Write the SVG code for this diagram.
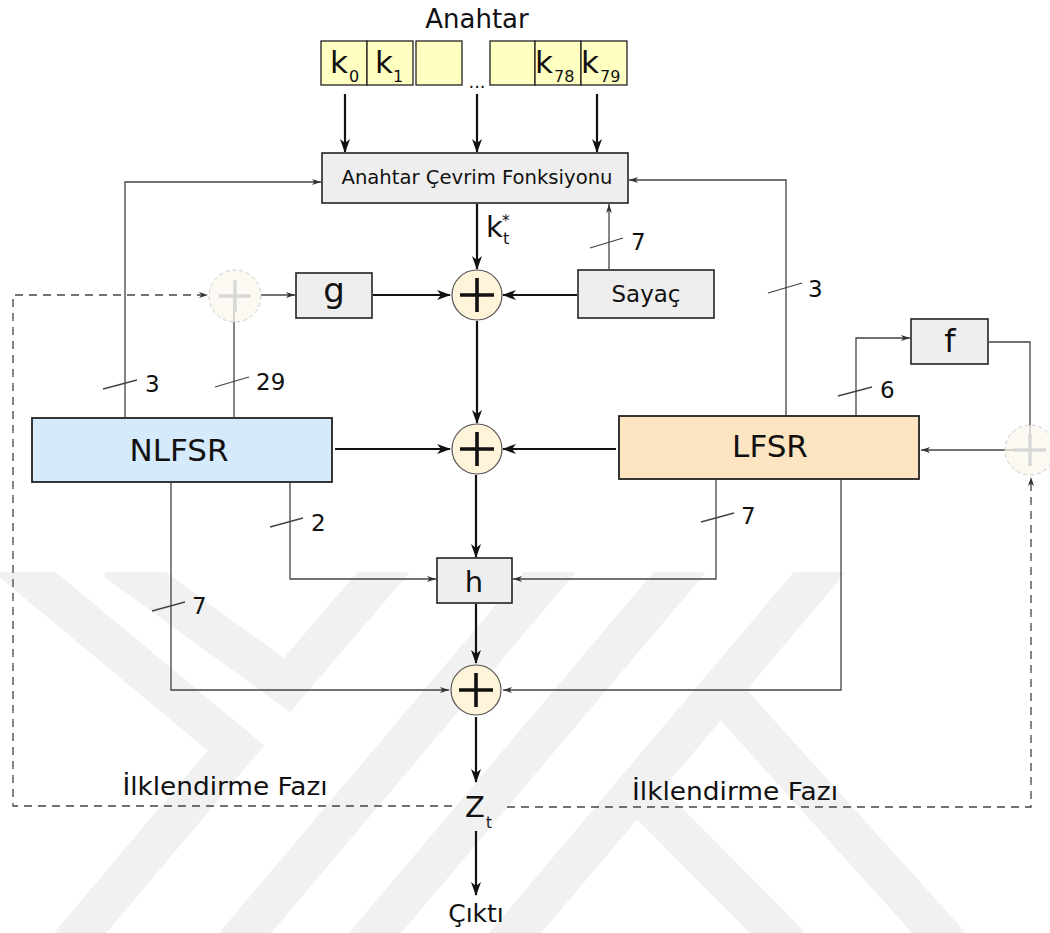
<svg xmlns="http://www.w3.org/2000/svg" width="1050" height="933" viewBox="0 0 1050 933">
<defs>
<marker id="ah" viewBox="0 0 14 10" refX="13" refY="5" markerWidth="14" markerHeight="10" orient="auto" markerUnits="userSpaceOnUse"><path d="M0,0 L14,5 L0,10 L4,5 Z" fill="#111"/></marker>
<marker id="as" viewBox="0 0 9 6" refX="9" refY="3" markerWidth="9" markerHeight="6" orient="auto" markerUnits="userSpaceOnUse"><path d="M0,0 L9,3 L0,6 L2.5,3 Z" fill="#333"/></marker>
<clipPath id="wmclip"><rect x="0" y="572" width="1050" height="361"/></clipPath>
</defs>
<style>
.t{font-family:"DejaVu Sans","Liberation Sans",sans-serif;fill:#111}
.box{fill:#eeeeee;stroke:#222;stroke-width:1.6}
.key{fill:#ffffc2;stroke:#222;stroke-width:1.3}
.thick{stroke:#111;stroke-width:2.2;fill:none;marker-end:url(#ah)}
.thin{stroke:#444;stroke-width:1.3;fill:none}
.thinA{stroke:#444;stroke-width:1.3;fill:none;marker-end:url(#as)}
.dash{stroke:#444;stroke-width:1.3;fill:none;stroke-dasharray:8 6;marker-end:url(#as)}
.xor{fill:#fff4da;stroke:#555;stroke-width:1.2}
.plus{stroke:#111;stroke-width:3.6}
.fx{fill:#faf6ec;fill-opacity:0.7;stroke:#cccccc;stroke-width:1;stroke-dasharray:4 3}
.fplus{stroke:#d8d8d8;stroke-width:3.5}
.wm{stroke:#f1f1f1;stroke-width:40;fill:none;stroke-linejoin:miter;stroke-miterlimit:10}
</style>
<rect width="1050" height="933" fill="#ffffff"/>
<g id="watermark" clip-path="url(#wmclip)">
<path class="wm" d="M10,560 L236,748 L70,945"/>
<path class="wm" d="M115,560 L287,685 L394,560"/>
<path class="wm" d="M560,560 L235,945"/>
<path class="wm" d="M690,560 L365,945"/>
<path class="wm" d="M830,560 L505,945"/>
<path class="wm" d="M720,690 L950,945"/>
<path class="wm" d="M636,790 L790,945"/>
</g>
<g id="connectors">
<line class="thick" x1="345" y1="94" x2="345" y2="152"/>
<line class="thick" x1="477" y1="94" x2="477" y2="152"/>
<line class="thick" x1="597" y1="94" x2="597" y2="152"/>
<line class="thick" x1="477" y1="204" x2="477" y2="269"/>
<line class="thick" x1="373" y1="295" x2="450" y2="295"/>
<line class="thick" x1="577" y1="295" x2="503" y2="295"/>
<line class="thick" x1="477" y1="321" x2="477" y2="423"/>
<line class="thick" x1="335" y1="449" x2="450" y2="449"/>
<line class="thick" x1="616" y1="449" x2="503" y2="449"/>
<line class="thick" x1="476" y1="475" x2="476" y2="557"/>
<line class="thick" x1="476" y1="604" x2="476" y2="663"/>
<line class="thick" x1="476" y1="717" x2="476" y2="782"/>
<line class="thick" x1="476" y1="831" x2="476" y2="895"/>
<path class="thinA" d="M125,417 V182 H321"/>
<path class="thinA" d="M786,415 V180 H629"/>
<path class="thinA" d="M609,269 V204"/>
<path class="thin" d="M234,417 V296"/>
<path class="thinA" d="M261,295 H295"/>
<path class="thinA" d="M856,415 V338 H910"/>
<path class="thinA" d="M989,342 H1030 V450 H921"/>
<path class="thinA" d="M290,483 V579 H436"/>
<path class="thinA" d="M716,480 V579 H513"/>
<path class="thinA" d="M171,483 V690 H449"/>
<path class="thinA" d="M841,480 V690 H503"/>
<path class="dash" d="M452,806 H13 V295 H208"/>
<path class="dash" d="M507,807 H1031 V477"/>
<line class="thin" x1="103" y1="389" x2="137" y2="380"/>
<line class="thin" x1="215" y1="387" x2="249" y2="377"/>
<line class="thin" x1="590" y1="248" x2="623" y2="238"/>
<line class="thin" x1="768" y1="293" x2="802" y2="283"/>
<line class="thin" x1="838" y1="396" x2="872" y2="387"/>
<line class="thin" x1="270" y1="527" x2="303" y2="518"/>
<line class="thin" x1="701" y1="522" x2="734" y2="513"/>
<line class="thin" x1="152" y1="611" x2="185" y2="602"/>
<text class="t" x="145" y="392" font-size="23">3</text>
<text class="t" x="256" y="390" font-size="23">29</text>
<text class="t" x="631" y="250" font-size="23">7</text>
<text class="t" x="808" y="297" font-size="23">3</text>
<text class="t" x="880" y="398" font-size="23">6</text>
<text class="t" x="311" y="531" font-size="23">2</text>
<text class="t" x="741" y="524" font-size="23">7</text>
<text class="t" x="192" y="614" font-size="23">7</text>
</g>
<g id="title"><text class="t" x="477" y="28" font-size="26" text-anchor="middle">Anahtar</text></g>
<g id="key">
<rect class="key" x="321" y="41" width="46" height="44"/>
<rect class="key" x="367" y="41" width="46" height="44"/>
<rect class="key" x="416" y="41" width="46" height="44"/>
<rect class="key" x="490" y="41" width="45" height="44"/>
<rect class="key" x="535" y="41" width="46" height="44"/>
<rect class="key" x="581" y="41" width="46" height="44"/>
<text class="t" x="330" y="73" font-size="31">k</text><text class="t" x="349" y="82" font-size="16">0</text>
<text class="t" x="375" y="73" font-size="31">k</text><text class="t" x="393" y="82" font-size="16">1</text>
<text class="t" x="535" y="73" font-size="31">k</text><text class="t" x="554" y="82" font-size="16">78</text>
<text class="t" x="581" y="73" font-size="31">k</text><text class="t" x="600" y="82" font-size="16">79</text>
<text class="t" x="477" y="88" font-size="18" text-anchor="middle">...</text>
</g>
<g id="keyfunc">
<rect class="box" x="322" y="153" width="306" height="50"/>
<text class="t" x="477" y="184" font-size="19" text-anchor="middle" textLength="271" lengthAdjust="spacingAndGlyphs">Anahtar Çevrim Fonksiyonu</text>
</g>
<g id="kt">
<text class="t" x="486" y="237" font-size="29">k</text>
<text class="t" x="503" y="244" font-size="16">t</text>
<text class="t" x="502" y="226" font-size="15">*</text>
</g>
<g id="xorG">
<circle class="fx" cx="235" cy="296" r="26"/>
<line class="fplus" x1="219" y1="296" x2="251" y2="296"/>
<line class="fplus" x1="235" y1="280" x2="235" y2="312"/>
</g>
<g id="g">
<rect class="box" x="296" y="273" width="76" height="45"/>
<text class="t" x="334" y="302" font-size="34" text-anchor="middle">g</text>
</g>
<g id="xor1">
<circle class="xor" cx="477" cy="295" r="25"/>
<line class="plus" x1="460" y1="295" x2="494" y2="295"/>
<line class="plus" x1="477" y1="278" x2="477" y2="312"/>
</g>
<g id="sayac">
<rect class="box" x="578" y="270" width="136" height="48"/>
<text class="t" x="646" y="302" font-size="23" text-anchor="middle">Sayaç</text>
</g>
<g id="f">
<rect class="box" x="911" y="319" width="77" height="45"/>
<text class="t" x="950" y="352" font-size="32" text-anchor="middle">f</text>
</g>
<g id="nlfsr">
<rect x="32" y="418" width="300" height="64" fill="#d5eafb" stroke="#222" stroke-width="1.8"/>
<text class="t" x="179" y="461" font-size="31" text-anchor="middle">NLFSR</text>
</g>
<g id="xor2">
<circle class="xor" cx="477" cy="449" r="25"/>
<line class="plus" x1="460" y1="449" x2="494" y2="449"/>
<line class="plus" x1="477" y1="432" x2="477" y2="466"/>
</g>
<g id="lfsr">
<rect x="619" y="416" width="300" height="63" fill="#fde5c1" stroke="#222" stroke-width="1.8"/>
<text class="t" x="770" y="457" font-size="31" text-anchor="middle">LFSR</text>
</g>
<g id="xorF">
<circle class="fx" cx="1030" cy="450" r="25"/>
<line class="fplus" x1="1014" y1="450" x2="1046" y2="450"/>
<line class="fplus" x1="1030" y1="434" x2="1030" y2="466"/>
</g>
<g id="h">
<rect class="box" x="437" y="558" width="75" height="45"/>
<text class="t" x="474" y="592" font-size="29" text-anchor="middle">h</text>
</g>
<g id="xor3">
<circle class="xor" cx="476" cy="690" r="25"/>
<line class="plus" x1="459" y1="690" x2="493" y2="690"/>
<line class="plus" x1="476" y1="673" x2="476" y2="707"/>
</g>
<g id="zt">
<text class="t" x="465" y="817" font-size="29">Z</text>
<text class="t" x="486" y="828" font-size="15">t</text>
</g>
<g id="out"><text class="t" x="476" y="922" font-size="25" text-anchor="middle">Çıktı</text></g>
<g id="labels">
<text class="t" x="225" y="795" font-size="24" text-anchor="middle" textLength="205" lengthAdjust="spacingAndGlyphs">İlklendirme Fazı</text>
<text class="t" x="735" y="800" font-size="24" text-anchor="middle" textLength="206" lengthAdjust="spacingAndGlyphs">İlklendirme Fazı</text>
</g>
</svg>
